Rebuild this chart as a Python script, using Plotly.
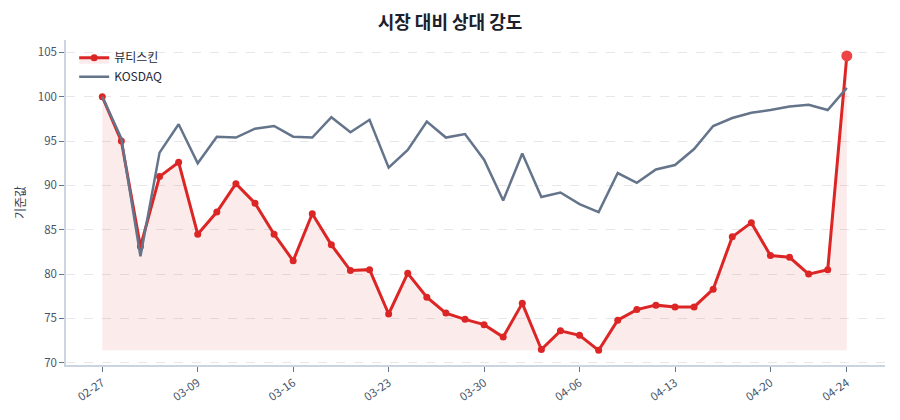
import plotly.graph_objects as go

dates = ["02-27", "03-03", "03-04", "03-05", "03-06",
         "03-09", "03-10", "03-11", "03-12", "03-13",
         "03-16", "03-17", "03-18", "03-19", "03-20",
         "03-23", "03-24", "03-25", "03-26", "03-27",
         "03-30", "03-31", "04-01", "04-02", "04-03",
         "04-06", "04-07", "04-08", "04-09", "04-10",
         "04-13", "04-14", "04-15", "04-16", "04-17",
         "04-20", "04-21", "04-22", "04-23", "04-24"]

stock = [100.0, 95.0, 83.1, 91.0, 92.6,
         84.5, 87.0, 90.2, 88.0, 84.5,
         81.5, 86.8, 83.3, 80.4, 80.5,
         75.5, 80.1, 77.4, 75.6, 74.9,
         74.3, 72.9, 76.7, 71.5, 73.6,
         73.1, 71.4, 74.8, 76.0, 76.5,
         76.3, 76.3, 78.3, 84.2, 85.8,
         82.1, 81.9, 80.0, 80.5, 104.6]

kosdaq = [100.0, 95.3, 82.0, 93.7, 96.9,
          92.5, 95.5, 95.4, 96.4, 96.7,
          95.5, 95.4, 97.7, 96.0, 97.4,
          92.0, 94.0, 97.2, 95.4, 95.8,
          92.9, 88.3, 93.6, 88.7, 89.2,
          87.9, 87.0, 91.4, 90.3, 91.8,
          92.3, 94.1, 96.7, 97.6, 98.2,
          98.5, 98.9, 99.1, 98.5, 101.0]

tick_labels = ["02-27", "03-09", "03-16", "03-23", "03-30", "04-06", "04-13", "04-20", "04-24"]

RED = "#dc2626"
SLATE = "#64748b"
TXT = "#475569"
FONT = "Noto Sans CJK KR"

base = min(stock)
sizes = [7] * (len(stock) - 1) + [11]
mcolors = [RED] * (len(stock) - 1) + ["#ef4444"]

fig = go.Figure()
fig.add_trace(go.Scatter(x=dates, y=[base] * len(dates), mode="lines",
                         line=dict(width=0, color="rgba(0,0,0,0)"),
                         showlegend=False, hoverinfo="skip"))
fig.add_trace(go.Scatter(x=dates, y=stock, mode="lines+markers", name="뷰티스킨",
                         line=dict(color=RED, width=3),
                         marker=dict(size=sizes, color=mcolors, opacity=1, line=dict(width=0)),
                         fill="tonexty", fillcolor="rgba(220,38,38,0.09)"))
fig.add_trace(go.Scatter(x=dates, y=kosdaq, mode="lines", name="KOSDAQ",
                         line=dict(color=SLATE, width=2.5)))

fig.update_layout(
    width=900, height=420,
    margin=dict(l=66, r=15, t=40, b=55),
    paper_bgcolor="white", plot_bgcolor="white",
    font=dict(family=FONT, size=12, color=TXT),
    title=dict(text="<b>시장 대비 상대 강도</b>", x=0.5, xanchor="center", y=0.945, yanchor="middle",
               font=dict(family=FONT, size=18, color="#1a202c")),
    legend=dict(x=0.01, y=0.99, xanchor="left", yanchor="top", bgcolor="rgba(255,255,255,0)",
                traceorder="normal",
                font=dict(size=12, color="#1f2937")),
    showlegend=True,
)
fig.update_xaxes(type="category", tickmode="array", tickvals=tick_labels, ticktext=tick_labels,
                 range=[-1.9, 41.0], tickangle=-35, showgrid=False,
                 showline=True, linecolor="#cbd5e1", linewidth=1.5,
                 ticks="outside", ticklen=5, tickcolor="#64748b",
                 tickfont=dict(size=11.5, color=TXT))
fig.update_yaxes(range=[69.75, 106.4], tickmode="array", tickvals=[70, 75, 80, 85, 90, 95, 100, 105],
                 showgrid=True, gridcolor="#e5e7eb", griddash="dash", gridwidth=1,
                 showline=True, linecolor="#cbd5e1", linewidth=1.5,
                 ticks="outside", ticklen=5, tickcolor="#64748b", zeroline=False,
                 tickfont=dict(size=11.5, color=TXT),
                 title=dict(text="기준값", font=dict(size=12, color="#334155"), standoff=10))

fig.write_html("out.html")
